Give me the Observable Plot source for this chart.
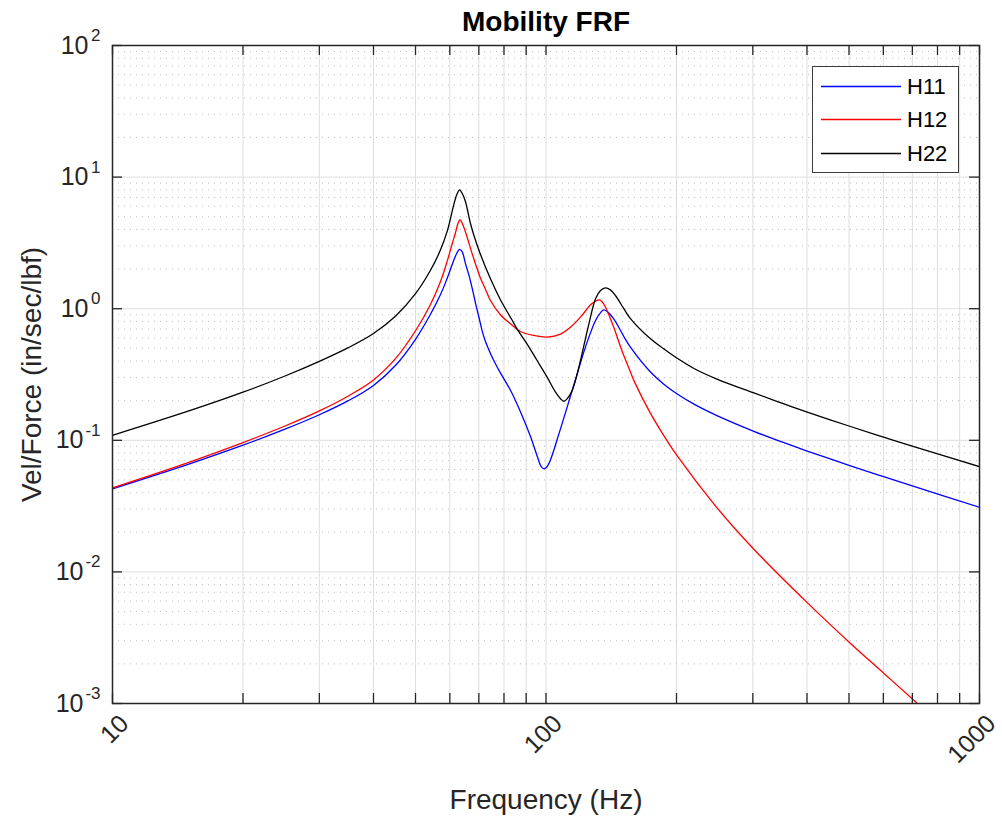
<!DOCTYPE html>
<html><head><meta charset="utf-8">
<script src="https://cdn.jsdelivr.net/npm/d3@7"></script>
<script src="https://cdn.jsdelivr.net/npm/@observablehq/plot@0.6"></script>
<style>
html,body{margin:0;padding:0;background:#fff;}
#wrap{position:relative;width:1002px;height:826px;font-family:"Liberation Sans",Arial,sans-serif;}
#legend{position:absolute;left:812px;top:66px;width:147px;height:107px;border:1px solid #3c3c3c;background:#fff;box-sizing:border-box;}
.row{position:absolute;left:0;width:146px;height:30px;}
.row svg{position:absolute;left:7px;top:0;}
.lb{position:absolute;left:94px;top:0;font-size:22px;line-height:30px;color:#000;}
</style></head><body><div id="wrap"></div>
<script>
// ---- data ----
const seriesNames = ["H11", "H12", "H22"];
const seriesColors = ["#0000ff", "#ff0000", "#000000"];

const freqH11 = [10, 15, 20, 25, 30, 35, 40, 45, 50, 54.1, 57.1, 59.2, 61.3, 62.3, 63.2, 64.1, 65.2, 66.4, 67.6, 69, 70.4, 71.4, 72.4, 74.5, 76.5, 78.5, 82.8, 87.3, 92.1, 95.4, 97.5, 98.9, 100.5, 102.4, 107.1, 111.9, 118, 124.4, 130.1, 133.5, 135.9, 138.5, 143.3, 151.2, 156.6, 174.2, 187, 200.8, 220, 248, 301.6, 350, 400.5, 504, 601, 705.6, 1000];
const magH11 = [0.0428, 0.066, 0.0919, 0.1215, 0.1563, 0.2, 0.2613, 0.372, 0.5855, 0.903, 1.281, 1.71, 2.34, 2.65, 2.82, 2.7, 2.2, 1.8, 1.42, 1.05, 0.80, 0.66, 0.57, 0.455, 0.38, 0.325, 0.24, 0.165, 0.107, 0.076, 0.063, 0.0607, 0.063, 0.071, 0.112, 0.1786, 0.32, 0.557, 0.814, 0.93, 0.98, 0.95, 0.838, 0.615, 0.51, 0.33, 0.267, 0.225, 0.1875, 0.154, 0.117, 0.0971, 0.0828, 0.064, 0.0529, 0.0446, 0.031];

const freqH12 = [10, 15, 20, 25, 30, 35, 40, 45, 50, 54.1, 57.1, 59.2, 60.8, 61.8, 62.6, 63.3, 64, 65, 67.6, 70.4, 72.4, 74.5, 78.5, 82.8, 87.3, 93.7, 100.6, 108, 113.9, 120.1, 126.7, 130, 132.9, 135, 137.1, 143.3, 150, 156.6, 160, 174.2, 187, 200.8, 248, 301.6, 400.5, 504, 601, 731, 1000];
const magH12 = [0.0435, 0.068, 0.0961, 0.1284, 0.1672, 0.2173, 0.2876, 0.419, 0.68, 1.073, 1.607, 2.31, 3.14, 3.76, 4.4, 4.74, 4.5, 3.95, 2.6, 1.75, 1.42, 1.15, 0.90, 0.767, 0.671, 0.626, 0.608, 0.64, 0.724, 0.862, 1.07, 1.14, 1.168, 1.12, 1.03, 0.724, 0.47, 0.33, 0.278, 0.160, 0.1085, 0.076, 0.0307, 0.01488, 0.00584, 0.00286, 0.0017, 0.000954, 0.000385];

const freqH22 = [10, 15, 20, 25, 30, 35, 40, 45, 50, 54.1, 57.1, 59.2, 61.3, 62.3, 63.2, 64.1, 65.2, 67, 68.2, 70.4, 74.5, 78.5, 80.2, 83.5, 85.8, 90.4, 95.4, 100.6, 105.2, 108, 109.9, 111.9, 114.9, 117.6, 120.1, 125.6, 130.1, 133.6, 137.1, 140.8, 144.6, 151.2, 156.6, 174.2, 187, 200.8, 220, 248, 301.6, 350, 400.5, 504, 601, 705.6, 1000];
const magH22 = [0.109, 0.167, 0.232, 0.308, 0.398, 0.506, 0.648, 0.88, 1.3, 1.95, 2.8, 3.9, 6.2, 7.4, 8.0, 7.5, 6.5, 4.4, 3.6, 2.65, 1.68, 1.17, 1.03, 0.82, 0.70, 0.541, 0.404, 0.302, 0.232, 0.207, 0.198, 0.207, 0.239, 0.305, 0.404, 0.767, 1.19, 1.375, 1.44, 1.39, 1.26, 1.0, 0.84, 0.59, 0.495, 0.42, 0.35, 0.292, 0.229, 0.1916, 0.164, 0.1273, 0.1057, 0.0894, 0.0631];

// ---- ticks ----
const xMajorTicks = [10, 100, 1000];
const xTickLabels = ["10", "100", "1000"];
const xAllTicks = [10, 20, 30, 40, 50, 60, 70, 80, 90, 100, 200, 300, 400, 500, 600, 700, 800, 900, 1000];
const yPosTicks = [1, 10, 100];
const yPosExp = ["0", "1", "2"];
const yNegTicks = [0.001, 0.01, 0.1];
const yNegExp = ["-3", "-2", "-1"];
const yMajorTicks = [0.001, 0.01, 0.1, 1, 10, 100];
const yMantissas = [2, 3, 4, 5, 6, 7, 8, 9];
const yDecades = [0.001, 0.01, 0.1, 1, 10];
const yMinorTicks = yDecades.flatMap(d => yMantissas.map(m => +(m * d).toPrecision(3)));

const rows = [];
[[freqH11, magH11], [freqH12, magH12], [freqH22, magH22]].forEach(([fs, vs], s) => {
  fs.forEach((f, i) => rows.push({series: seriesNames[s], f, v: vs[i]}));
});

const axisColor = "#262626";
const tickFont = 25;
const labelFont = 28;

const chart = Plot.plot({
  width: 1002, height: 826,
  marginLeft: 112, marginRight: 23, marginTop: 45, marginBottom: 123,
  style: {fontFamily: "'Liberation Sans', Arial, sans-serif", background: "white", overflow: "visible"},
  x: {type: "log", domain: [10, 1000], axis: null},
  y: {type: "log", domain: [0.001, 100], axis: null},
  color: {domain: seriesNames, range: seriesColors},
  marks: [
    Plot.ruleX(xAllTicks, {x: d => d, stroke: "#dedede", strokeWidth: 1}),
    Plot.ruleY(yMinorTicks, {y: d => d, stroke: "#bdbdbd", strokeWidth: 1, strokeDasharray: "1,5"}),
    Plot.ruleY(yMajorTicks, {y: d => d, stroke: "#dedede", strokeWidth: 1}),
    Plot.line(rows, {x: "f", y: "v", z: "series", stroke: "series", strokeWidth: 1.3, curve: "catmull-rom", clip: true}),
    Plot.frame({stroke: axisColor, strokeWidth: 1.5}),
    Plot.tickX(xAllTicks, {x: d => d, stroke: axisColor, strokeWidth: 1.3, insetTop: 648}),
    Plot.tickX(xAllTicks, {x: d => d, stroke: axisColor, strokeWidth: 1.3, insetBottom: 648}),
    Plot.tickY(yMajorTicks, {y: d => d, stroke: axisColor, strokeWidth: 1.3, insetRight: 857}),
    Plot.tickY(yMajorTicks, {y: d => d, stroke: axisColor, strokeWidth: 1.3, insetLeft: 857}),
    // y tick labels 10^n
    Plot.text(yPosTicks, {y: d => d, frameAnchor: "left", text: () => "10", textAnchor: "end", lineAnchor: "middle", dx: -24, fontSize: tickFont, fill: axisColor}),
    Plot.text(yPosTicks, {y: d => d, frameAnchor: "left", text: yPosExp, textAnchor: "end", lineAnchor: "middle", dx: -12, dy: -10, fontSize: 17, fill: axisColor}),
    Plot.text(yNegTicks, {y: d => d, frameAnchor: "left", text: () => "10", textAnchor: "end", lineAnchor: "middle", dx: -29, fontSize: tickFont, fill: axisColor}),
    Plot.text(yNegTicks, {y: d => d, frameAnchor: "left", text: yNegExp, textAnchor: "end", lineAnchor: "middle", dx: -12, dy: -10, fontSize: 17, fill: axisColor}),
    // x tick labels rotated
    Plot.text(xMajorTicks, {x: d => d, frameAnchor: "bottom", text: xTickLabels, rotate: -45, textAnchor: "end", lineAnchor: "middle", dx: 12, dy: 16, fontSize: tickFont, fill: axisColor}),
    // title & axis labels
    Plot.text(["Mobility FRF"], {frameAnchor: "top", text: d => d, lineAnchor: "middle", textAnchor: "middle", dy: -23, fontSize: labelFont, fontWeight: "bold", fill: "#000"}),
    Plot.text(["Frequency (Hz)"], {frameAnchor: "bottom", text: d => d, lineAnchor: "middle", textAnchor: "middle", dy: 97, fontSize: labelFont, fill: axisColor}),
    Plot.text(["Vel/Force (in/sec/lbf)"], {frameAnchor: "left", text: d => d, lineAnchor: "middle", textAnchor: "middle", dx: -80, rotate: -90, fontSize: labelFont, fill: axisColor})
  ]
});

const wrap = document.getElementById("wrap");
wrap.appendChild(chart);

// legend (HTML overlay inside the axes)
const legend = document.createElement("div");
legend.id = "legend";
seriesNames.forEach((name, i) => {
  const row = document.createElement("div");
  row.className = "row";
  row.style.top = (5 + i * 33.3) + "px";
  row.innerHTML = `<svg width="82" height="30"><line x1="1" x2="81" y1="14.5" y2="14.5" stroke="${seriesColors[i]}" stroke-width="1.3"/></svg>`;
  const lb = document.createElement("div");
  lb.className = "lb";
  lb.textContent = name;
  row.appendChild(lb);
  legend.appendChild(row);
});
wrap.appendChild(legend);
</script></body></html>
